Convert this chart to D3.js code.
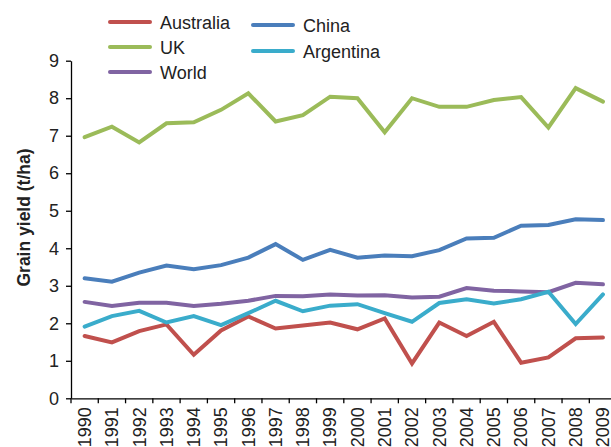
<!DOCTYPE html>
<html>
<head>
<meta charset="utf-8">
<script src="https://cdn.jsdelivr.net/npm/d3@7"></script>
<style>
  body { margin: 0; background: #fff; }
  svg { display: block; font-family: "Liberation Sans", Arial, sans-serif; }
</style>
</head>
<body>
<svg id="chart" width="611" height="447"></svg>
<script>
const years = ['1990', '1991', '1992', '1993', '1994', '1995', '1996', '1997', '1998', '1999',
    '2000', '2001', '2002', '2003', '2004', '2005', '2006', '2007', '2008', '2009'];

const australia = [1.66, 1.49, 1.79, 1.97, 1.16, 1.81, 2.18, 1.86, 1.94, 2.02,
    1.84, 2.13, 0.93, 2.02, 1.66, 2.04, 0.95, 1.09, 1.60, 1.62];
const uk = [6.96, 7.24, 6.82, 7.33, 7.36, 7.69, 8.13, 7.38, 7.55, 8.04,
    8.00, 7.09, 8.00, 7.77, 7.77, 7.95, 8.03, 7.22, 8.27, 7.91];
const world = [2.57, 2.46, 2.55, 2.55, 2.46, 2.52, 2.60, 2.73, 2.72, 2.77,
    2.74, 2.75, 2.69, 2.71, 2.94, 2.87, 2.85, 2.83, 3.08, 3.04];
const china = [3.20, 3.11, 3.35, 3.54, 3.44, 3.55, 3.75, 4.11, 3.69, 3.96,
    3.75, 3.81, 3.79, 3.95, 4.26, 4.28, 4.60, 4.62, 4.77, 4.75];
const argentina = [1.91, 2.19, 2.33, 2.02, 2.19, 1.95, 2.27, 2.60, 2.32, 2.47,
    2.51, 2.27, 2.04, 2.54, 2.64, 2.53, 2.64, 2.84, 1.98, 2.77];

const yTicks = [0, 1, 2, 3, 4, 5, 6, 7, 8, 9];

const series = [
    { name: 'Australia', values: australia, color: '#c0504d' },
    { name: 'UK', values: uk, color: '#9bbb59' },
    { name: 'World', values: world, color: '#8064a2' },
    { name: 'China', values: china, color: '#4a7ebb' },
    { name: 'Argentina', values: argentina, color: '#3aaccb' }
];

const svg = d3.select('#chart');

const AXIS_X = 71;
const AXIS_Y = 398.3;
const TOP_Y = 60.7;
const STEP = 27.28;

const x = d3.scaleBand()
    .domain(years)
    .range([AXIS_X, AXIS_X + STEP * years.length])
    .padding(0);

const y = d3.scaleLinear()
    .domain([0, 9])
    .range([AXIS_Y, TOP_Y]);

// lines
const line = d3.line()
    .x((d, i) => x(years[i]) + x.bandwidth() / 2)
    .y(d => y(d));

series.forEach(s => {
    svg.append('path')
        .datum(s.values)
        .attr('d', line)
        .attr('fill', 'none')
        .attr('stroke', s.color)
        .attr('stroke-width', 4)
        .attr('stroke-linejoin', 'miter')
        .attr('stroke-linecap', 'round');
});

// y axis
const yAxis = svg.append('g')
    .attr('transform', `translate(${AXIS_X},0)`)
    .call(d3.axisLeft(y).tickValues(yTicks).tickSize(5).tickSizeOuter(0).tickPadding(7));
yAxis.select('.domain').attr('stroke', '#000').attr('stroke-width', 1.3);
yAxis.selectAll('.tick line').attr('stroke', '#000').attr('stroke-width', 1.3);
yAxis.selectAll('.tick text')
    .attr('font-size', 18)
    .attr('fill', '#222')
    .attr('font-family', '"Liberation Sans", Arial, sans-serif');

// x axis
const xAxis = svg.append('g')
    .attr('transform', `translate(0,${AXIS_Y})`)
    .call(d3.axisBottom(x).tickSize(0).tickSizeOuter(0));
xAxis.select('.domain').attr('stroke', '#000').attr('stroke-width', 1.3);
xAxis.selectAll('.tick text')
    .attr('font-size', 18)
    .attr('fill', '#222')
    .attr('font-family', '"Liberation Sans", Arial, sans-serif')
    .attr('text-anchor', 'end')
    .attr('transform', 'rotate(-90)')
    .attr('x', -9)
    .attr('y', 0)
    .attr('dy', '0.35em');

// x tick marks between categories
xAxis.selectAll('.sep')
    .data(years)
    .enter()
    .append('line')
    .attr('class', 'sep')
    .attr('x1', d => x(d))
    .attr('x2', d => x(d))
    .attr('y1', 0)
    .attr('y2', 5)
    .attr('stroke', '#000')
    .attr('stroke-width', 1.3);

// y axis title
svg.append('text')
    .text('Grain yield (t/ha)')
    .attr('transform', `translate(30,${(TOP_Y + AXIS_Y) / 2 - 12}) rotate(-90)`)
    .attr('text-anchor', 'middle')
    .attr('font-size', 17.5)
    .attr('font-weight', 'bold')
    .attr('fill', '#222');

// legend
const legendPos = [
    { x: 110, y: 22 }, { x: 110, y: 47 }, { x: 110, y: 72 },
    { x: 253, y: 25 }, { x: 253, y: 51 }
];
series.forEach((s, i) => {
    const p = legendPos[i];
    svg.append('line')
        .attr('x1', p.x).attr('x2', p.x + 40)
        .attr('y1', p.y).attr('y2', p.y)
        .attr('stroke', s.color)
        .attr('stroke-width', 4)
        .attr('stroke-linecap', 'round');
    svg.append('text')
        .text(s.name)
        .attr('x', p.x + 50)
        .attr('y', p.y + 6.5)
        .attr('font-size', 18)
        .attr('fill', '#222');
});
</script>
</body>
</html>
